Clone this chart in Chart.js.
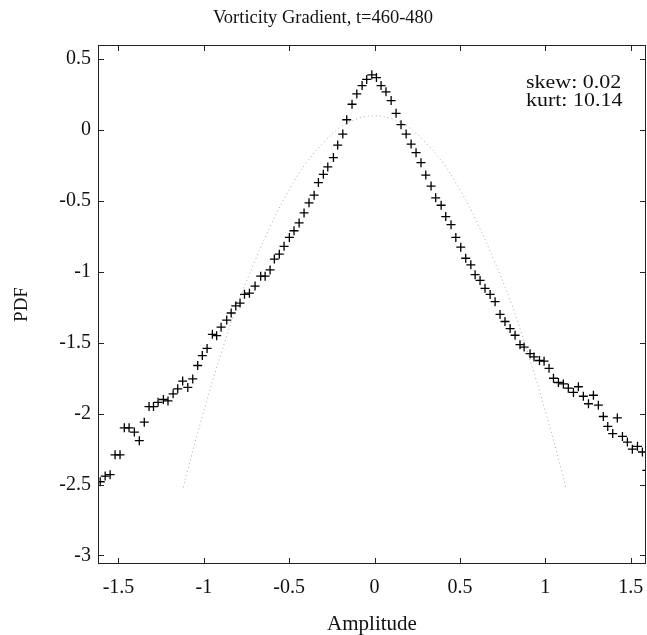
<!DOCTYPE html>
<html>
<head>
<meta charset="utf-8">
<script src="https://cdn.jsdelivr.net/npm/chart.js@4/dist/chart.umd.min.js"></script>
<style>
html,body{margin:0;padding:0;background:#fff;}
canvas{display:block;}
</style>
</head>
<body>
<canvas id="c" width="647" height="635"></canvas>
<script>
// ---- data ----
const titleText = 'Vorticity Gradient, t=460-480';
const xLabel = 'Amplitude';
const yLabel = 'PDF';
const annotationLines = ['skew: 0.02', 'kurt: 10.14'];

const xTicks = [-1.5, -1, -0.5, 0, 0.5, 1, 1.5];
const yTicks = [-3, -2.5, -2, -1.5, -1, -0.5, 0, 0.5];

const pdfX = [-1.607,-1.578,-1.549,-1.520,-1.491,-1.466,-1.438,-1.407,-1.378,-1.349,-1.321,-1.295,-1.268,-1.237,-1.210,-1.180,-1.153,-1.124,-1.094,-1.065,-1.036,-1.009,-0.981,-0.950,-0.925,-0.899,-0.866,-0.840,-0.813,-0.788,-0.762,-0.733,-0.700,-0.667,-0.641,-0.612,-0.587,-0.558,-0.530,-0.499,-0.472,-0.442,-0.413,-0.384,-0.354,-0.329,-0.300,-0.274,-0.241,-0.216,-0.186,-0.163,-0.132,-0.104,-0.073,-0.046,-0.016,0.011,0.038,0.067,0.097,0.126,0.155,0.185,0.214,0.243,0.272,0.300,0.331,0.358,0.390,0.417,0.448,0.476,0.505,0.534,0.564,0.589,0.618,0.647,0.677,0.706,0.735,0.764,0.794,0.823,0.852,0.876,0.911,0.934,0.966,0.993,1.022,1.048,1.077,1.106,1.135,1.165,1.194,1.223,1.253,1.282,1.311,1.340,1.366,1.395,1.422,1.452,1.481,1.510,1.540,1.569,1.595];
const pdfY = [-2.48,-2.44,-2.43,-2.29,-2.29,-2.10,-2.10,-2.13,-2.19,-2.06,-1.95,-1.95,-1.92,-1.90,-1.91,-1.86,-1.825,-1.77,-1.815,-1.755,-1.66,-1.59,-1.54,-1.44,-1.45,-1.39,-1.34,-1.29,-1.24,-1.22,-1.158,-1.15,-1.10,-1.03,-1.03,-0.986,-0.91,-0.875,-0.82,-0.757,-0.71,-0.655,-0.584,-0.513,-0.459,-0.37,-0.312,-0.26,-0.194,-0.106,-0.028,0.073,0.182,0.255,0.314,0.357,0.39,0.37,0.314,0.27,0.208,0.118,0.038,-0.028,-0.099,-0.159,-0.23,-0.317,-0.395,-0.478,-0.53,-0.61,-0.667,-0.757,-0.826,-0.904,-0.95,-1.02,-1.06,-1.116,-1.159,-1.21,-1.30,-1.35,-1.40,-1.447,-1.513,-1.53,-1.577,-1.60,-1.625,-1.63,-1.68,-1.75,-1.78,-1.79,-1.82,-1.85,-1.81,-1.877,-1.93,-1.87,-1.94,-2.02,-2.09,-2.14,-2.03,-2.16,-2.20,-2.25,-2.23,-2.27,-2.40];

const gaussX = [-1.12,-1.1,-1.0,-0.9,-0.8,-0.7,-0.6,-0.5,-0.4,-0.3,-0.2,-0.1,0,0.1,0.2,0.3,0.4,0.5,0.6,0.7,0.8,0.9,1.0,1.1,1.12];
const gaussY = [-2.52,-2.42,-1.98,-1.58,-1.22,-0.92,-0.65,-0.42,-0.23,-0.09,0.02,0.08,0.10,0.08,0.02,-0.09,-0.23,-0.42,-0.65,-0.92,-1.22,-1.58,-1.98,-2.42,-2.52];

const xMin = -1.62, xMax = 1.59, yMin = -3.06, yMax = 0.6;

// ---- chart ----
const serif = "'Liberation Serif', 'DejaVu Serif', serif";

const frameTicks = {
  id: 'frameTicks',
  afterDraw(chart) {
    const {ctx, chartArea: a, scales: {x, y}} = chart;
    ctx.save();
    ctx.strokeStyle = '#222';
    ctx.lineWidth = 1;
    ctx.strokeRect(Math.round(a.left) + 0.5, Math.round(a.top) + 0.5,
                   Math.round(a.right - a.left) - 1, Math.round(a.bottom - a.top) - 1);
    const L = 6;
    ctx.beginPath();
    xTicks.forEach(v => {
      const p = Math.round(x.getPixelForValue(v)) + 0.5;
      ctx.moveTo(p, a.bottom); ctx.lineTo(p, a.bottom - L);
      ctx.moveTo(p, a.top); ctx.lineTo(p, a.top + L);
    });
    yTicks.forEach(v => {
      const p = Math.round(y.getPixelForValue(v)) + 0.5;
      ctx.moveTo(a.left, p); ctx.lineTo(a.left + L, p);
      ctx.moveTo(a.right, p); ctx.lineTo(a.right - L, p);
    });
    ctx.stroke();
    // annotation text
    ctx.fillStyle = '#111';
    ctx.font = '18px ' + serif;
    ctx.textBaseline = 'alphabetic';
    annotationLines.forEach((t, i) => {
      ctx.save();
      ctx.translate(526, 88 + i * 18);
      ctx.scale(1.22, 1);
      ctx.fillText(t, 0, 0);
      ctx.restore();
    });
    ctx.restore();
  }
};

new Chart(document.getElementById('c'), {
  type: 'scatter',
  data: {
    datasets: [
      {
        label: 'Gaussian',
        type: 'line',
        data: gaussX.map((v, i) => ({x: v, y: gaussY[i]})),
        borderColor: '#a8a8a8',
        borderWidth: 1,
        borderDash: [1, 3],
        pointRadius: 0,
        tension: 0.4,
        fill: false
      },
      {
        label: 'PDF',
        data: pdfX.map((v, i) => ({x: v, y: pdfY[i]})),
        pointStyle: 'cross',
        pointRadius: 4.5,
        borderColor: '#000',
        backgroundColor: '#000',
        pointBorderWidth: 1.3
      }
    ]
  },
  options: {
    responsive: false,
    animation: false,
    devicePixelRatio: 1,
    layout: {autoPadding: false, padding: {left: 0, right: 1, top: 0, bottom: 0}},
    plugins: {
      legend: {display: false},
      tooltip: {enabled: false},
      title: {
        display: true,
        text: titleText,
        color: '#111',
        font: {family: serif, size: 18.5, weight: 'normal', lineHeight: 1.2},
        padding: {top: 7, bottom: 15.8}
      }
    },
    scales: {
      x: {
        type: 'linear',
        min: xMin, max: xMax,
        grid: {display: false, drawTicks: false},
        border: {display: false},
        afterBuildTicks: s => { s.ticks = xTicks.map(v => ({value: v})); },
        afterFit: s => { s.height = 71; s.paddingLeft = 0; s.paddingRight = 0; },
        ticks: {
          color: '#111',
          font: {family: serif, size: 20},
          padding: 12,
          maxRotation: 0,
          callback: v => String(v)
        },
        title: {
          display: true,
          text: xLabel,
          color: '#111',
          font: {family: serif, size: 21},
          padding: {top: 0, bottom: -2}
        }
      },
      y: {
        type: 'linear',
        min: yMin, max: yMax,
        grid: {display: false, drawTicks: false},
        border: {display: false},
        afterBuildTicks: s => { s.ticks = yTicks.map(v => ({value: v})); },
        afterFit: s => { s.width = 98; s.paddingTop = 0; s.paddingBottom = 0; },
        ticks: {
          color: '#111',
          font: {family: serif, size: 20},
          padding: 7,
          callback: v => String(v)
        },
        title: {
          display: true,
          text: yLabel,
          color: '#111',
          font: {family: serif, size: 19},
          padding: {top: 11, bottom: 0}
        }
      }
    }
  },
  plugins: [frameTicks]
});
</script>
</body>
</html>
